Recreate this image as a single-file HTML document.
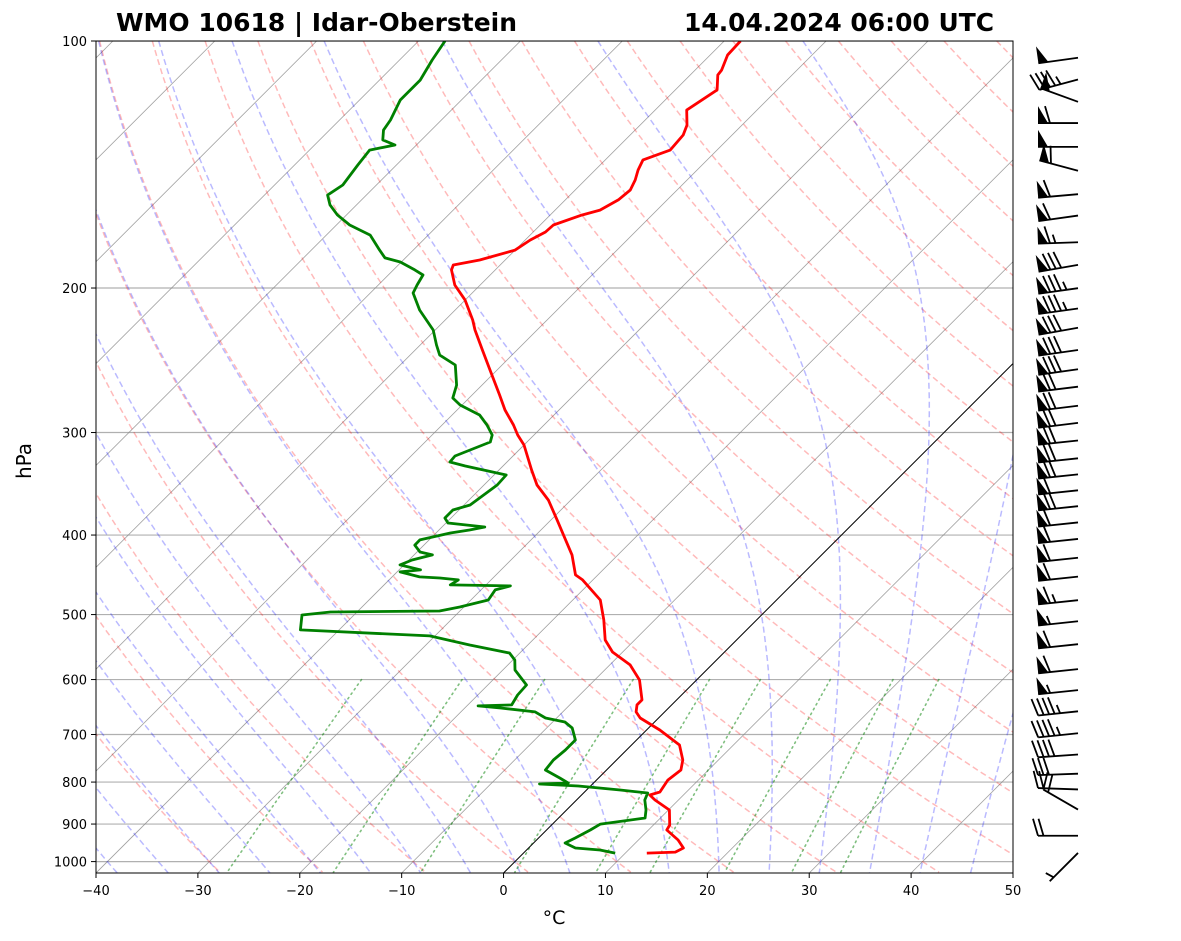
<!DOCTYPE html>
<html>
<head>
<meta charset="utf-8">
<style>
  html,body{margin:0;padding:0;background:#fff;}
  svg{display:block;}
  text{font-family:"DejaVu Sans","Liberation Sans",sans-serif;}
</style>
</head>
<body>
<svg id="chart" width="1181" height="941" viewBox="0 0 1181 941" xmlns="http://www.w3.org/2000/svg">
  <defs>
    <clipPath id="plotclip"><rect x="96" y="41" width="917" height="832"/></clipPath>
  </defs>
  <rect x="0" y="0" width="1181" height="941" fill="#fff"/>
  <text x="116" y="31" font-size="25" font-weight="bold" textLength="401" lengthAdjust="spacingAndGlyphs">WMO 10618 | Idar-Oberstein</text>
  <text x="684" y="31" font-size="25" font-weight="bold" textLength="310" lengthAdjust="spacingAndGlyphs">14.04.2024 06:00 UTC</text>
  <g id="bg" clip-path="url(#plotclip)"></g>
  <g id="profiles" clip-path="url(#plotclip)"></g>
  <rect x="96" y="41" width="917" height="832" fill="none" stroke="#000" stroke-width="1"/>
  <g id="axes"></g>
  <g id="barbs"></g>
  <text x="0" y="0" font-size="20" text-anchor="middle" transform="translate(31,461) rotate(-90)">hPa</text>
  <text x="554" y="924" font-size="19" text-anchor="middle">°C</text>
</svg>
<script>
// ---- data ----
const tempP = [100,104.0,108.5,110.0,114.7,121.4,126.6,130.2,135.8,139.6,143.6,147.7,151.9,156.2,160.7,163.0,167.6,170.9,174.8,179.8,184.9,187.5,190.1,198.3,206.9,218.8,225.0,238.0,251.7,270.0,281.6,293.7,302.1,310.7,333.3,347.6,362.6,383.4,405.5,422.9,447.3,453.7,479.9,507.6,536.9,555.3,575.9,600.7,635.3,644.3,657.1,668.3,691.2,720.9,752.0,773.4,795.5,822.7,829.6,841.3,865.3,902.5,915.2,941.3,962.6,973.6,976.3];
const tempT = [-58.4,-58.3,-57.4,-57.3,-55.9,-56.9,-55.4,-54.8,-54.6,-56.3,-55.8,-55.1,-54.6,-54.8,-55.6,-56.9,-58.7,-58.8,-59.5,-60.0,-62.5,-64.6,-64.3,-62.5,-60.0,-57.3,-56.1,-53.4,-50.7,-47.3,-45.3,-43.0,-41.6,-40.0,-36.8,-34.8,-32.2,-29.4,-26.6,-24.5,-22.2,-21.0,-17.3,-15.0,-12.9,-11.0,-8.0,-5.6,-3.4,-3.4,-2.8,-1.8,1.3,4.7,6.5,7.3,7.0,7.4,6.7,7.7,10.1,11.6,11.8,13.9,15.2,14.8,12.1];
const dewP = [100,105.5,111.6,118.0,124.8,128.4,132.0,133.9,135.8,141.6,149.8,154.1,158.4,162.9,167.6,172.4,179.8,183.8,185.9,190.1,192.8,198.3,202.8,212.7,225.0,234.7,241.4,248.2,262.6,272.3,277.7,285.6,293.7,302.1,308.1,315.1,320.4,325.9,329.5,338.0,347.6,367.7,372.8,381.3,386.7,391.1,394.4,397.7,405.5,411.4,419.5,422.9,429.0,435.0,441.1,443.6,449.9,451.2,453.7,460.1,461.4,466.6,479.9,489.5,495.0,496.4,500.6,522.0,530.9,544.6,557.0,568.0,584.1,609.2,626.5,644.3,646.1,649.8,657.1,668.3,675.9,687.3,710.9,731.1,752.0,773.4,791.0,802.1,804.4,808.9,818.0,824.9,841.3,865.3,884.9,900.0,915.2,936.0,949.2,962.6,967.9,976.3];
const dewT = [-87.4,-86.8,-86.0,-86.0,-85.0,-84.7,-83.8,-82.1,-84.1,-83.8,-83.3,-83.8,-82.6,-80.9,-78.7,-75.7,-73.3,-72.0,-70.1,-67.9,-66.6,-66.2,-65.8,-63.5,-60.2,-58.4,-57.1,-54.6,-52.5,-51.6,-50.2,-47.3,-45.6,-44.1,-43.6,-44.8,-45.7,-45.6,-43.7,-38.8,-38.7,-39.4,-40.6,-40.6,-39.8,-35.8,-37.0,-38.6,-40.9,-40.9,-39.7,-38.2,-39.7,-40.4,-37.9,-39.7,-37.3,-35.2,-33.2,-33.5,-27.5,-28.6,-28.3,-30.4,-32.0,-42.6,-45.1,-43.8,-30.5,-25.7,-21.0,-19.8,-18.8,-16.2,-16.1,-15.7,-18.9,-16.5,-12.7,-11.1,-8.8,-7.5,-6.0,-6.0,-6.2,-6.0,-3.8,-2.5,-5.2,-1.2,3.3,6.3,6.7,7.8,8.5,4.7,4.3,3.6,3.1,4.6,7.2,9.0];
const windP = [104.8,111.4,118.6,125.9,134.6,143.9,153.7,163.2,175.9,187.4,200.1,211.8,223.6,238.0,251.2,263.8,278.3,292.0,306.8,322.5,337.4,352.8,368.9,386.1,404.4,426.3,449.5,480.2,509.5,543.3,582.7,618.0,655.9,697.5,740.5,781.4,816.7,864.1,930.0,976.0];
const windSpd = [50,45,50,60,50,60,60,60,65,80,85,85,80,80,80,70,70,70,70,70,70,60,70,60,60,60,60,65,55,60,60,55,45,45,40,30,20,20,20,5];
const windDir = [262,255,290,270,270,285,265,262,268,260,262,262,260,262,262,263,263,263,264,264,264,264,264,264,264,264,264,264,264,264,264,264,264,264,266,268,272,300,270,225];
const xTicks = [-40,-30,-20,-10,0,10,20,30,40,50];
const yTicks = [100,200,300,400,500,600,700,800,900,1000];
const dryThetaC = [];  for(let t=-30;t<=200;t+=10) dryThetaC.push(t);
const moistT0 = [-40,-35,-30,-25,-20,-15,-10,-5,0,5,10,15,20,25,30,35,40,45];
const mixW = [0.0004,0.001,0.002,0.004,0.007,0.01,0.016,0.024,0.032];

// ---- axes ----
const NS='http://www.w3.org/2000/svg';
const X0=96, X1=1013, YT=41, YB=873, PXC=917/90, PDEC=820.6;
function yOf(p){return YT+PDEC*Math.log10(p/100);}
function xOf(T,p){return X0+(T+40)*PXC+(YB-yOf(p));}
const PMAX=100*Math.pow(10,(YB-YT)/PDEC);

function mk(tag,attrs,parent){const e=document.createElementNS(NS,tag);for(const k in attrs)e.setAttribute(k,attrs[k]);parent.appendChild(e);return e;}
function path(pts){return pts.map((q,i)=>(i?'L':'M')+q[0].toFixed(1)+','+q[1].toFixed(1)).join('');}

const bg=document.getElementById('bg');
yTicks.forEach(p=>{
  const l=mk('line',{x1:X0,x2:X1,y1:yOf(p),y2:yOf(p),stroke:'#b0b0b0','stroke-width':1.2},bg);
  
  
});
for(let T=-160;T<=50;T+=10){
  const l=mk('line',{x1:xOf(T,PMAX),y1:YB,x2:xOf(T,100),y2:YT,stroke:'#888','stroke-width':0.8,'stroke-opacity':0.8},bg);
  
  
}
dryThetaC.forEach(tc=>{
  const th=tc+273.15, pts=[];
  for(let p=100;p<=PMAX+1;p+=5){pts.push([xOf(th*Math.pow(p/1000,0.2857)-273.15,p),yOf(p)]);}
  const e=mk('path',{d:path(pts),fill:'none',stroke:'#ff0000','stroke-opacity':0.27,'stroke-width':1.5,'stroke-dasharray':'6,3.5'},bg);
  
  
});
function es(Tc){return 6.112*Math.exp(17.67*Tc/(Tc+243.5));}
function dTdp(T,p){
  const Rd=287.04,Cp=1005.7,Lv=2.501e6,eps=0.622;
  const e=es(T-273.15), rs=eps*e/(p-e);
  return (Rd*T+Lv*rs)/(p*(Cp+Lv*Lv*rs*eps/(Rd*T*T)));
}
function integ(T0,pStart,pEnd,dp){
  const out=[];let T=T0,p=pStart;out.push([T,p]);
  const n=Math.round(Math.abs(pEnd-pStart)/Math.abs(dp));
  for(let i=0;i<n;i++){
    const k1=dTdp(T,p),k2=dTdp(T+k1*dp/2,p+dp/2),k3=dTdp(T+k2*dp/2,p+dp/2),k4=dTdp(T+k3*dp,p+dp);
    T+=dp*(k1+2*k2+2*k3+k4)/6;p+=dp;out.push([T,p]);
  }
  return out;
}
moistT0.forEach(t0=>{
  const up=integ(t0+273.15,1000,100,-5).reverse();
  const dn=integ(t0+273.15,1000,1035,5).slice(1);
  const pts=up.concat(dn).map(q=>[xOf(q[0]-273.15,q[1]),yOf(q[1])]);
  const e=mk('path',{d:path(pts),fill:'none',stroke:'#0000ff','stroke-opacity':0.27,'stroke-width':1.5,'stroke-dasharray':'6,3.5'},bg);
  
  
});
mixW.forEach(w=>{
  const pts=[];
  for(let p=600;p<=PMAX+1;p+=10){
    const e=p*w/(0.622+w),L=Math.log(e/6.112),Td=243.5*L/(17.67-L);
    pts.push([xOf(Td,p),yOf(p)]);
  }
  const el=mk('path',{d:path(pts),fill:'none',stroke:'#008000','stroke-opacity':0.5,'stroke-width':1.6,'stroke-dasharray':'1.5,4','stroke-linecap':'round'},bg);
  
  
});
const zl=mk('line',{x1:xOf(0,PMAX),y1:YB,x2:xOf(0,100),y2:YT,stroke:'#000','stroke-width':1},bg);



const prof=document.getElementById('profiles');
const tp=mk('path',{d:path(tempP.map((p,i)=>[xOf(tempT[i],p),yOf(p)])),fill:'none',stroke:'#ff0000','stroke-width':2.8,'stroke-linejoin':'round'},prof);


const dp=mk('path',{d:path(dewP.map((p,i)=>[xOf(dewT[i],p),yOf(p)])),fill:'none',stroke:'#008000','stroke-width':2.8,'stroke-linejoin':'round'},prof);



const ax=document.getElementById('axes');
xTicks.forEach(t=>{
  const x=X0+(t+40)*PXC;
  const l=mk('line',{x1:x,x2:x,y1:YB,y2:YB+5,stroke:'#000','stroke-width':1},ax);
  
  
  const tx=mk('text',{x:x,y:YB+22,'font-size':13,'text-anchor':'middle'},ax);
  tx.textContent=(t<0?'\u2212':'')+Math.abs(t);
  
  
});
yTicks.forEach(p=>{
  const y=yOf(p);
  const l=mk('line',{x1:X0-5,x2:X0,y1:y,y2:y,stroke:'#000','stroke-width':1},ax);
  
  
  const tx=mk('text',{x:X0-9,y:y+5,'font-size':13,'text-anchor':'end'},ax);
  tx.textContent=String(p);
  
  
});

const bb=document.getElementById('barbs');
const BX=1078, LEN=40, FL=17, SP=5.5, FW=10;
windP.forEach((p,i)=>{
  const D=windDir[i]*Math.PI/180;
  const d=[Math.sin(D),-Math.cos(D)];
  let pp=[Math.cos(D),Math.sin(D)];
  if(pp[1]>0){pp=[-pp[0],-pp[1]];}
  const by=yOf(p);
  const at=s=>[BX+d[0]*s,by+d[1]*s];
  const g=mk('g',{},bb);
  
  
  const tip=at(LEN);
  mk('line',{x1:BX,y1:by,x2:tip[0],y2:tip[1],stroke:'#000','stroke-width':1.8},g);
  let spd=Math.round(windSpd[i]/5)*5;
  let s=LEN;
  const nf=Math.floor(spd/50);spd-=nf*50;
  const nb=Math.floor(spd/10);spd-=nb*10;
  const nh=spd>=5?1:0;
  for(let k=0;k<nf;k++){
    const a=at(s),b=at(s-FW),c=[a[0]+pp[0]*FL,a[1]+pp[1]*FL];
    mk('polygon',{points:[a,b,c].map(q=>q[0].toFixed(1)+','+q[1].toFixed(1)).join(' '),fill:'#000'},g);
    s-=FW+2;
  }
  if(nf===0 && nb===0 && nh===1) s-=SP;
  for(let k=0;k<nb;k++){
    const a=at(s);
    mk('line',{x1:a[0],y1:a[1],x2:a[0]+pp[0]*FL+d[0]*5,y2:a[1]+pp[1]*FL+d[1]*5,stroke:'#000','stroke-width':1.8},g);
    s-=SP;
  }
  if(nh){
    const a=at(s);
    mk('line',{x1:a[0],y1:a[1],x2:a[0]+pp[0]*FL/2+d[0]*2.5,y2:a[1]+pp[1]*FL/2+d[1]*2.5,stroke:'#000','stroke-width':1.8},g);
  }
});
</script>
</body>
</html>
